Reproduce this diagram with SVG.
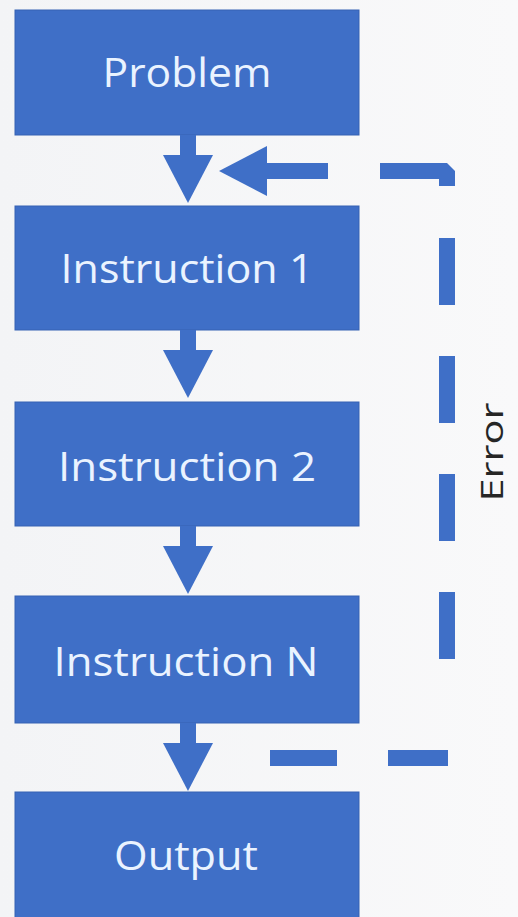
<svg xmlns="http://www.w3.org/2000/svg" width="518" height="917" viewBox="0 0 518 917">
  <defs>
    <linearGradient id="bg" x1="0" y1="0" x2="1" y2="0">
      <stop offset="0" stop-color="#f3f4f6"/>
      <stop offset="1" stop-color="#f9f9fa"/>
    </linearGradient>
    <marker id="head" markerUnits="userSpaceOnUse" markerWidth="48" markerHeight="50" viewBox="0 0 48 50" refX="0" refY="25" orient="auto">
      <path d="M0,0 L48,25 L0,50 Z" fill="#3f6fc7"/>
    </marker>
    <style>
      .box { fill: #3f6fc7; stroke: #3762b3; stroke-width: 1; }
      .label { font-family: "Open Sans", "Noto Sans", sans-serif; font-size: 41px; fill: #eaf3ff; text-anchor: middle; }
      .flow { stroke: #3f6fc7; stroke-width: 16; fill: none; }
      .dash { stroke: #3f6fc7; stroke-width: 16; fill: none; stroke-dasharray: 67 51; }
      .note { font-family: "Open Sans", "Noto Sans", sans-serif; font-size: 31px; fill: #262626; text-anchor: middle; }
    </style>
  </defs>

  <rect x="0" y="0" width="518" height="917" fill="url(#bg)"/>

  <!-- process steps -->
  <g id="problem">
    <rect class="box" x="15" y="10" width="344" height="125"/>
    <text class="label" x="187" y="87" textLength="169" lengthAdjust="spacingAndGlyphs">Problem</text>
  </g>
  <g id="instruction1">
    <rect class="box" x="15" y="206" width="344" height="124"/>
    <text class="label" x="187" y="283" textLength="253" lengthAdjust="spacingAndGlyphs">Instruction 1</text>
  </g>
  <g id="instruction2">
    <rect class="box" x="15" y="402" width="344" height="124"/>
    <text class="label" x="187" y="481" textLength="258" lengthAdjust="spacingAndGlyphs">Instruction 2</text>
  </g>
  <g id="instructionN">
    <rect class="box" x="15" y="596" width="344" height="127"/>
    <text class="label" x="186" y="676" textLength="265" lengthAdjust="spacingAndGlyphs">Instruction N</text>
  </g>
  <g id="output">
    <rect class="box" x="15" y="792" width="344" height="130"/>
    <text class="label" x="186" y="870" textLength="144" lengthAdjust="spacingAndGlyphs">Output</text>
  </g>

  <!-- connectors -->
  <g id="connectors">
    <line class="flow" x1="188" y1="135" x2="188" y2="155" marker-end="url(#head)"/>
    <line class="flow" x1="188" y1="330" x2="188" y2="350" marker-end="url(#head)"/>
    <line class="flow" x1="188" y1="526" x2="188" y2="546" marker-end="url(#head)"/>
    <line class="flow" x1="188" y1="723" x2="188" y2="743" marker-end="url(#head)"/>

    <!-- error feedback loop back to the first instruction -->
    <g id="error-loop">
      <path class="dash" d="M270,758 H448"/>
      <path class="dash" d="M447,659 V237"/>
      <path class="flow" stroke-linejoin="bevel" d="M380,171 H447 V186"/>
      <path class="flow" d="M328,171 H267" marker-end="url(#head)"/>
      <text class="note" transform="translate(503,452) rotate(-90)" textLength="99" lengthAdjust="spacingAndGlyphs">Error</text>
    </g>
  </g>
</svg>
